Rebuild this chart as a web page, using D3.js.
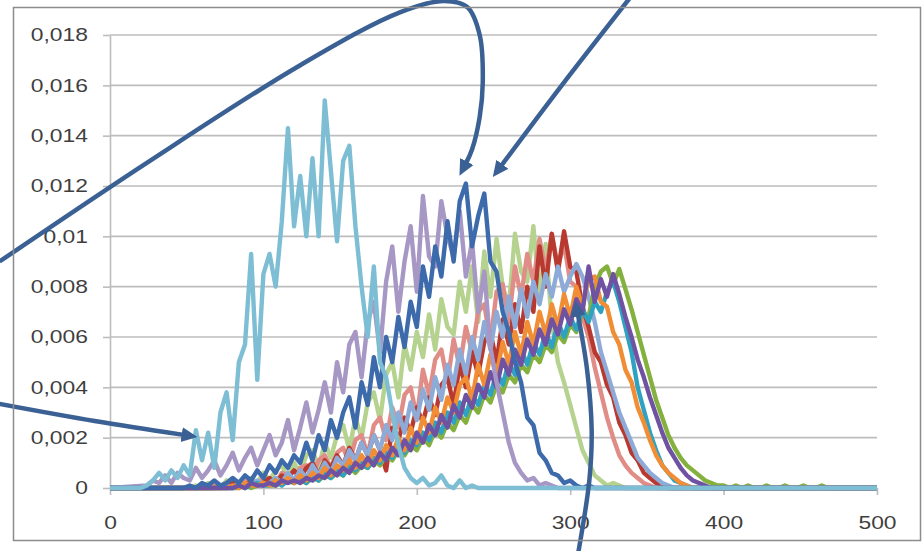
<!DOCTYPE html>
<html>
<head>
<meta charset="utf-8">
<script src="https://cdn.jsdelivr.net/npm/d3@7"></script>
<style>
  body { margin: 0; background: #fff; }
  svg { display: block; }
</style>
</head>
<body>
<div id="chart"></div>
<script>
// readings are stored in units of 0.0001, one reading every 4 on the x axis
const xStep = 4;
const yUnit = 0.0001;

const xTicks = [0, 100, 200, 300, 400, 500];
const yTicks = [0, 0.002, 0.004, 0.006, 0.008, 0.01, 0.012, 0.014, 0.016, 0.018];
const yTickLabels = ["0", "0,002", "0,004", "0,006", "0,008", "0,01", "0,012", "0,014", "0,016", "0,018"];

// each series: first x of the readings, then the readings
const lightBlueStart = 20;
const lightBlue = [0,1,3,6,3,7,4,9,5,23, 11,22,8,30,38,19,50,57,93,43, 85,93,80,106,143,104,124,100,131,100,
  154,126,98,130,136,104,80,60,88,50, 44,30,17,8,4,2,4,1,2,5, 1,0,3,0,1,0];

const lavenderStart = 24;
const lavender = [1,3,2,5,2,6,4,3,8,4, 7,11,5,9,14,7,12,16,9,15, 21,13,18,27,15,24,34,22,31,42,
  30,50,38,57,62,44,66,74,54,82, 96,70,90,104,78,116,92,88,114,100, 92,110,84,98,70,86,56,42,30,18,
  10,6,3,4,1,2,1,0,0];

const darkBlueStart = 48;
const darkBlue = [0,1,0,2,1,3,1,2,4,2, 5,3,7,4,9,6,11,8,13,10, 18,11,21,15,27,20,30,36,24,42,
  33,52,40,60,50,68,56,74,64,88, 76,96,84,106,90,114,121,96,108,117, 90,86,70,62,50,42,28,25,14,11,
  6,5,2,3,1,0,1,0];

const lightGreenStart = 52;
const lightGreen = [0,1,0,2,1,0,3,1,2,3, 4,2,6,3,7,9,4,10,6,13, 15,8,18,12,21,25,15,28,20,34,
  38,27,45,50,36,57,47,62,52,69, 55,75,64,61,82,70,88,66,94,76, 99,80,72,101,86,82,104,76,97,66,
  50,42,33,24,15,10,5,3,1,2, 1,0,0];

const salmonStart = 64;
const salmon = [0,1,0,2,1,1,3,2,1,4, 3,2,6,5,3,8,9,5,11,13, 8,14,16,10,19,21,13,25,28,19,
  32,24,37,40,28,47,37,51,55,42, 59,48,64,54,70,73,58,78,81,66, 88,76,93,82,99,86,101,88,97,82,
  80,68,60,48,38,28,20,13,9,6, 4,2,1,0];

const darkRedStart = 68;
const darkRed = [0,1,0,2,1,1,3,1,2,4, 2,5,4,7,4,8,10,5,11,8, 13,9,16,11,18,13,21,15,7,24,
  19,28,22,32,26,36,29,41,44,33, 49,40,54,45,58,62,50,67,57,73, 62,80,70,96,80,101,86,102,88,86,
  72,64,54,50,41,36,26,21,14,11, 6,4,2,1,0];

const periwinkleStart = 72;
const periwinkle = [0,1,0,2,1,1,3,1,2,4, 2,6,3,7,4,9,5,10,6,12, 9,15,11,18,13,21,15,25,19,30,
  22,34,27,39,31,44,35,49,41,55, 45,60,51,66,55,70,60,76,64,79, 68,82,73,85,76,88,78,84,89,84,
  76,66,54,46,38,30,24,18,12,9, 6,4,2,1,0];

const orangeStart = 76;
const orange = [0,1,0,2,1,1,2,1,3,2, 4,2,5,3,6,4,8,5,9,7, 11,8,13,9,15,11,17,13,20,15,
  24,18,28,22,32,26,36,30,41,44, 35,49,41,53,45,58,49,62,53,66, 57,70,61,73,64,77,68,80,72,83,
  84,74,72,62,57,47,42,32,26,19, 13,9,6,4,2,1,0];

const tealStart = 80;
const teal = [0,1,0,1,2,1,1,3,1,3, 2,4,2,5,3,6,4,7,5,9, 7,10,8,12,10,14,12,16,14,19,
  17,22,19,26,22,30,26,34,29,37, 33,41,37,46,41,50,45,55,49,58, 53,62,56,66,60,68,63,71,66,74,
  70,78,82,74,64,54,40,31,22,15, 9,6,3,2,1,0];

const darkPurpleStart = 80;
const darkPurple = [0,1,0,2,1,1,2,1,3,2, 3,2,4,3,5,4,7,5,8,6, 10,8,12,9,14,11,16,13,19,15,
  22,18,25,21,29,24,33,28,37,32, 41,36,46,40,51,45,55,49,59,53, 63,57,67,61,71,65,75,70,88,74,
  83,76,85,77,68,60,51,44,36,29, 22,16,12,8,5,3,2,1,0];

const greenStart = 84;
const green = [0,1,0,1,2,1,1,2,3,2, 3,2,4,3,5,4,6,5,8,6, 9,8,11,9,13,11,15,13,17,15,
  20,17,23,20,26,23,29,26,33,30, 37,34,41,38,45,42,49,46,53,50, 57,54,61,58,65,62,70,68,80,86,
  88,81,87,79,71,62,53,44,35,28, 21,16,12,9,7,5,3,2,1,1,
  0,1,0,1,0,0,1,0,0,1, 0,0,1,0,0,1,0];

// annotation arrows, in chart units (x, value)
const arrowTopLeft = [[-72, 0.0090], [26, 0.0130], [124, 0.0168], [189, 0.0189], [218, 0.01935],
  [233, 0.0191], [241, 0.0180], [243, 0.0161], [241, 0.01475], [236, 0.01345], [232, 0.0129]];
const arrowTopRight = [[339, 0.01948], [294.5, 0.0160], [255, 0.0128]];
const arrowLeft = [[-72, 0.00334], [-10, 0.00266], [48, 0.00211]];
const arrowBottom = [[305, -0.00266], [312.5, 0.00032], [314, 0.0023], [311, 0.0047], [305, 0.0069]];

// drawing order, first one ends up at the back
const series = [
  {name: "lightGreen", start: lightGreenStart, values: lightGreen},
  {name: "salmon", start: salmonStart, values: salmon},
  {name: "darkRed", start: darkRedStart, values: darkRed},
  {name: "periwinkle", start: periwinkleStart, values: periwinkle},
  {name: "green", start: greenStart, values: green},
  {name: "teal", start: tealStart, values: teal},
  {name: "orange", start: orangeStart, values: orange},
  {name: "darkPurple", start: darkPurpleStart, values: darkPurple},
  {name: "lavender", start: lavenderStart, values: lavender},
  {name: "darkBlue", start: darkBlueStart, values: darkBlue},
  {name: "lightBlue", start: lightBlueStart, values: lightBlue}
];

const colors = {
  lightBlue: "#7dbed4",
  lavender: "#a697c4",
  darkBlue: "#3d6aab",
  lightGreen: "#b5d28f",
  salmon: "#e08d88",
  darkRed: "#b8392f",
  periwinkle: "#8eabd8",
  orange: "#f18d34",
  teal: "#2ea2c0",
  darkPurple: "#6f52a2",
  green: "#84b03e"
};

const arrowColor = "#3b6194";
const gridColor = "#bdbdbd";

// set the dimensions and margins of the graph
const totalWidth = 922, totalHeight = 551;
const margin = {top: 35, right: 45, bottom: 63, left: 110},
    width = totalWidth - margin.left - margin.right,
    height = totalHeight - margin.top - margin.bottom;

const root = d3.select("#chart")
  .append("svg")
    .attr("width", totalWidth)
    .attr("height", totalHeight);

const svg = root.append("g")
    .attr("transform", `translate(${margin.left}, ${margin.top})`);

const x = d3.scaleLinear().domain([0, 500]).range([0, width]);
const y = d3.scaleLinear().domain([0, 0.018]).range([height, 0]);

// horizontal gridlines
svg.selectAll("line.grid")
  .data(yTicks.slice(1))
  .join("line")
    .attr("class", "grid")
    .attr("x1", 0)
    .attr("x2", width)
    .attr("y1", d => y(d))
    .attr("y2", d => y(d))
    .attr("stroke", gridColor)
    .attr("stroke-width", 1.6);

const labelScale = 1.27;
const labelFont = "'Liberation Sans', Arial, sans-serif";

// y axis
const yAxis = svg.append("g")
  .call(d3.axisLeft(y)
    .tickValues(yTicks)
    .tickSize(7)
    .tickSizeOuter(0)
    .tickFormat((d, i) => yTickLabels[i]));
yAxis.select(".domain").attr("stroke", gridColor).attr("stroke-width", 1.6);
yAxis.selectAll(".tick line").attr("stroke", gridColor).attr("stroke-width", 1.6);
yAxis.selectAll(".tick text")
  .attr("x", 0)
  .attr("transform", `translate(-22,0) scale(${labelScale},1)`)
  .style("font-family", labelFont)
  .style("font-size", "18px")
  .attr("fill", "#3f3f3f");

// x axis
const xAxis = svg.append("g")
  .attr("transform", `translate(0, ${height})`)
  .call(d3.axisBottom(x)
    .tickValues(xTicks)
    .tickSize(7)
    .tickSizeOuter(0));
xAxis.select(".domain").attr("stroke", gridColor).attr("stroke-width", 1.6);
xAxis.selectAll(".tick line").attr("stroke", gridColor).attr("stroke-width", 1.6);
xAxis.selectAll(".tick text")
  .attr("y", 0)
  .attr("transform", `translate(0,28) scale(${labelScale},1)`)
  .style("font-family", labelFont)
  .style("font-size", "18px")
  .attr("fill", "#3f3f3f");

// the lines
const line = d3.line()
  .x(d => x(d[0]))
  .y(d => y(d[1]));

function points(s) {
  const pts = s.values.map((v, i) => [s.start + i * xStep, v * yUnit]);
  return [[0, 0], ...pts, [500, 0]];
}

svg.selectAll("path.series")
  .data(series)
  .join("path")
    .attr("class", "series")
    .attr("fill", "none")
    .attr("stroke", d => colors[d.name])
    .attr("stroke-width", 4.4)
    .attr("stroke-linejoin", "round")
    .attr("d", d => line(points(d)));

// arrows
root.append("defs")
  .append("marker")
    .attr("id", "head")
    .attr("markerUnits", "userSpaceOnUse")
    .attr("viewBox", "0 -8 16 16")
    .attr("markerWidth", 16)
    .attr("markerHeight", 16)
    .attr("refX", 2)
    .attr("refY", 0)
    .attr("orient", "auto")
  .append("path")
    .attr("d", "M0,-7.5L16,0L0,7.5Z")
    .attr("fill", arrowColor);

const arrowLine = d3.line()
  .x(d => x(d[0]))
  .y(d => y(d[1]))
  .curve(d3.curveCatmullRom);

svg.selectAll("path.arrow")
  .data([arrowTopLeft, arrowTopRight, arrowLeft, arrowBottom])
  .join("path")
    .attr("class", "arrow")
    .attr("fill", "none")
    .attr("stroke", arrowColor)
    .attr("stroke-width", 4.5)
    .attr("marker-end", "url(#head)")
    .attr("d", d => arrowLine(d));

// chart frame
root.append("rect")
  .attr("x", 13.5)
  .attr("y", 7.5)
  .attr("width", 907)
  .attr("height", 533)
  .attr("fill", "none")
  .attr("stroke", "#8c8c8c")
  .attr("stroke-width", 1.5);
</script>
</body>
</html>
